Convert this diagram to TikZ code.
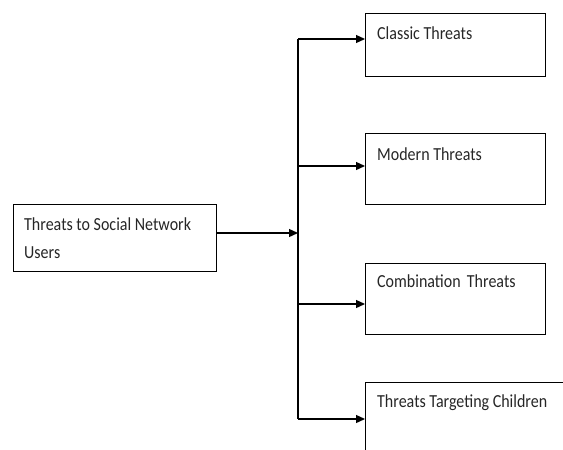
\documentclass[tikz,border=0pt]{standalone}
\usepackage{fontspec}
\setmainfont{Carlito}
\usetikzlibrary{arrows.meta}
\newcommand\vstretch[1]{\scalebox{1}[1.15]{#1}}
\begin{document}
\begin{tikzpicture}[x=1pt,y=-1pt,
  box/.style={draw=black,line width=1.3pt,anchor=north west,inner sep=0pt},
  txt/.style={font=\fontsize{16}{28}\selectfont,inner sep=0pt,align=left,text=black!85},
  arr/.style={line width=1.3pt,-{Triangle[length=9pt,width=8pt]}},
  ln/.style={line width=1.3pt}]
\useasboundingbox (0,0) rectangle (563,450);
\clip (0,0) rectangle (563,450);
% boxes
\node[box,minimum width=203pt,minimum height=67pt] (src) at (13,204) {};
\node[box,minimum width=180pt,minimum height=63pt] (c1) at (365,13) {};
\node[box,minimum width=180pt,minimum height=71pt] (c2) at (365,133) {};
\node[box,minimum width=180pt,minimum height=71pt] (c3) at (365,263) {};
\node[box,minimum width=220pt,minimum height=90pt] (c4) at (365,382) {};
% texts
\node[txt,anchor=north west] (srct) at (24,218) {\vstretch{Threats to Social Network}\\\vstretch{Users}};
\node[txt,anchor=base west] (t1) at (377,39) {\vstretch{Classic Threats}};
\node[txt,anchor=base west] (t2) at (377,160) {\vstretch{Modern Threats}};
\node[txt,anchor=base west] (t3) at (377,287) {\vstretch{Combination\, Threats}};
\node[txt,anchor=base west] (t4) at (377,407) {\vstretch{Threats Targeting Children}};
% connectors
\coordinate (j) at (298,233);
\coordinate (b1) at (298,39);
\coordinate (b2) at (298,166);
\coordinate (b3) at (298,304);
\coordinate (b4) at (298,419);
\draw[ln] (b1) -- (b4);
\draw[arr] (src.east |- j) -- (j);
\draw[arr] (b1) -- (b1 -| c1.west);
\draw[arr] (b2) -- (b2 -| c2.west);
\draw[arr] (b3) -- (b3 -| c3.west);
\draw[arr] (b4) -- (b4 -| c4.west);
\end{tikzpicture}
\end{document}
